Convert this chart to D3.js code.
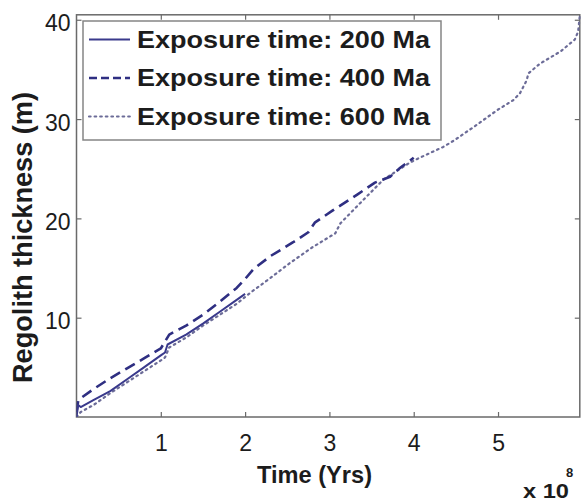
<!DOCTYPE html>
<html><head><meta charset="utf-8">
<script src="https://cdn.jsdelivr.net/npm/d3@7"></script>
<style>
html,body{margin:0;padding:0;background:#fff;}
svg{display:block;font-family:"Liberation Sans",Arial,Helvetica,sans-serif;}
</style></head>
<body>
<svg id="chart" width="582" height="502"></svg>
<script>
// Time in units of 1e8 years, thickness in metres
const series200T = [0,0.02,0.05,0.2,0.4,0.6,0.8,1.0,1.05,1.08,1.3,1.5,1.7,1.9,2.0];
const series200V = [0,1.2,1.0,1.7,2.6,3.8,5.0,6.2,6.5,7.3,8.3,9.4,10.6,11.8,12.4];

const series400T = [0,0.02,0.05,0.2,0.4,0.6,0.8,1.0,1.05,1.1,1.3,1.5,1.7,1.9,2.0,2.1,2.3,2.57,2.75,2.83,3.04,3.33,3.54,3.72,3.84,4.0];
const series400V = [0.5,1.6,1.9,2.8,3.9,4.9,5.9,6.9,7.6,8.3,9.2,10.3,11.6,13.0,13.9,14.9,16.2,17.6,18.6,19.6,20.8,22.4,23.6,24.2,25.1,26.1];

const series600T = [0,0.05,0.2,0.4,0.6,0.8,1.0,1.05,1.1,1.3,1.5,1.7,1.9,2.06,2.3,2.53,2.8,3.07,3.13,3.36,3.64,3.95,4.07,4.35,4.47,4.71,4.99,5.18,5.26,5.34,5.36,5.5,5.74,5.91,5.95,5.97];
const series600V = [0,0.5,1.2,2.4,3.5,4.6,5.7,6.0,7.0,8.0,9.2,10.3,11.4,12.5,14.0,15.5,17.1,18.5,19.5,21.5,23.9,25.6,26.1,27.2,27.8,29.2,30.9,31.9,32.6,33.9,34.6,35.6,36.8,38.0,38.8,40.4];

const seriesNames = ["Exposure time: 200 Ma","Exposure time: 400 Ma","Exposure time: 600 Ma"];
const xTicks = [1,2,3,4,5];
const yTicks = [10,20,30,40];
const xLabel = "Time (Yrs)";
const yLabel = "Regolith thickness (m)";
const xExponentBase = "x 10";
const xExponent = "8";

const svg = d3.select("#chart");
const L = 76.5, R = 579.8, T = 14.8, B = 417;
const x = d3.scaleLinear().domain([0,5.97]).range([L,R]);
const y = d3.scaleLinear().domain([0,40.5]).range([B,T]);

const axisColor = "#6a6a6a";
const textColor = "#1c1c1c";

// frame
svg.append("rect").attr("x",L).attr("y",T).attr("width",R-L).attr("height",B-T)
  .attr("fill","none").attr("stroke",axisColor).attr("stroke-width",1.5);

function styleAxis(g){
  g.select(".domain").remove();
  g.selectAll(".tick line").attr("stroke",axisColor).attr("stroke-width",1.2);
  g.selectAll(".tick text").attr("fill",textColor).attr("font-size",23)
    .attr("font-family","'Liberation Sans',Arial,sans-serif");
}
const gx = svg.append("g").attr("transform",`translate(0,${B})`)
  .call(d3.axisBottom(x).tickValues(xTicks).tickFormat(d3.format("d")).tickSize(-5).tickPadding(17.5));
styleAxis(gx);
const gxt = svg.append("g").attr("transform",`translate(0,${T})`)
  .call(d3.axisTop(x).tickValues(xTicks).tickFormat("").tickSize(-5));
styleAxis(gxt);
const gy = svg.append("g").attr("transform",`translate(${L},0)`)
  .call(d3.axisLeft(y).tickValues(yTicks).tickFormat(d3.format("d")).tickSize(-5).tickPadding(6));
styleAxis(gy);
gy.selectAll(".tick text").attr("dy","0.48em");
const gyr = svg.append("g").attr("transform",`translate(${R},0)`)
  .call(d3.axisRight(y).tickValues(yTicks).tickFormat("").tickSize(-5));
styleAxis(gyr);

// lines
const styles = [
  {dash:null, width:2, color:"#3a3a8c"},
  {dash:"11,6", width:2.6, color:"#2f2f82"},
  {dash:"1.6,4", width:2.2, color:"#6c6c98"}
];
const data = [
  series200T.map((t,i)=>[t,series200V[i]]),
  series400T.map((t,i)=>[t,series400V[i]]),
  series600T.map((t,i)=>[t,series600V[i]])
];
const line = d3.line().x(d=>x(d[0])).y(d=>y(d[1]));
svg.append("clipPath").attr("id","clip").append("rect")
  .attr("x",L).attr("y",T-2).attr("width",R-L+1).attr("height",B-T+2);
[2,1,0].forEach(i=>{
  svg.append("path").datum(data[i]).attr("d",line)
    .attr("fill","none").attr("stroke",styles[i].color).attr("stroke-width",styles[i].width)
    .attr("stroke-dasharray",styles[i].dash).attr("stroke-linecap", i===2?"round":"butt")
    .attr("stroke-linejoin","round").attr("clip-path","url(#clip)");
});

// legend
const lg = svg.append("g");
lg.append("rect").attr("x",83).attr("y",21).attr("width",358).attr("height",119)
  .attr("fill","#fff").attr("stroke","#858585").attr("stroke-width",1.5);
seriesNames.forEach((name,i)=>{
  const cy = 39.5 + i*38.5;
  lg.append("line").attr("x1",89).attr("x2",130).attr("y1",cy).attr("y2",cy)
    .attr("stroke",styles[i].color).attr("stroke-width",styles[i].width)
    .attr("stroke-dasharray", i===1 ? "8,4" : styles[i].dash)
    .attr("stroke-linecap", i===2?"round":"butt");
  lg.append("text").attr("x",137).attr("y",cy+8).text(name)
    .attr("font-size",24.5).attr("font-weight","bold").attr("fill",textColor)
    .attr("textLength",293).attr("lengthAdjust","spacingAndGlyphs");
});

// axis labels
svg.append("text").attr("x",257).attr("y",483).text(xLabel)
  .attr("font-size",24).attr("font-weight","bold").attr("fill",textColor)
  .attr("textLength",115).attr("lengthAdjust","spacingAndGlyphs");
svg.append("text").attr("transform","translate(32,237.5) rotate(-90)")
  .attr("text-anchor","middle").text(yLabel)
  .attr("font-size",27).attr("font-weight","bold").attr("fill",textColor)
  .attr("textLength",291).attr("lengthAdjust","spacingAndGlyphs");
svg.append("text").attr("x",523).attr("y",498).text(xExponentBase)
  .attr("font-size",21).attr("font-weight","bold").attr("fill",textColor)
  .attr("textLength",46).attr("lengthAdjust","spacingAndGlyphs");
svg.append("text").attr("x",566).attr("y",477).text(xExponent)
  .attr("font-size",13).attr("font-weight","bold").attr("fill",textColor);
</script>
</body></html>
